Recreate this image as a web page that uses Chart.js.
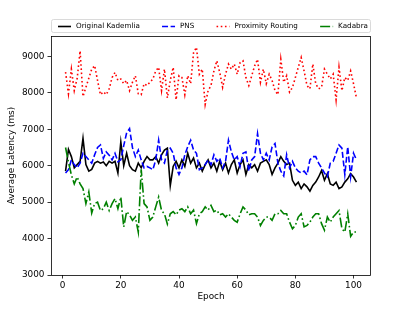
<!DOCTYPE html>
<html>
<head>
<meta charset="utf-8">
<script src="https://cdn.jsdelivr.net/npm/chart.js@4.4.1/dist/chart.umd.min.js"></script>
<style>
  html, body { margin: 0; padding: 0; background: #fff; }
  canvas { display: block; }
</style>
</head>
<body>
<canvas id="latency" width="412" height="309"></canvas>
<script>
// values, epochs 1..101
const kademlia = [
  5850, 6450, 6250, 5940, 6030, 6120, 6750, 6030, 5850, 5900,
  6070, 6120, 6070, 6100, 6000, 6120, 6070, 6120, 5800, 6650,
  6000, 6340, 6000, 5890, 5850, 6070, 5940, 6120, 6250, 6160,
  6160, 6250, 6070, 6300, 6430, 6480, 5450, 5980, 6120, 5940,
  6160, 5980, 6340, 6070, 6210, 5940, 6070, 5850, 6030, 6160,
  5940, 6070, 5850, 6120, 5890, 6070, 5800, 6030, 6160, 5800,
  6030, 6160, 5760, 6030, 5940, 6030, 5850, 6070, 6120, 6160,
  6030, 5760, 5940, 6070, 6250, 6120, 6030, 6070, 5600, 5460,
  5550, 5370, 5500, 5420, 5300, 5460, 5550, 5690, 5870, 5600,
  5780, 5500, 5460, 5550, 5370, 5420, 5550, 5640, 5780, 5690, 5550
];
const pns = [
  5800, 5890, 6160, 6030, 5940, 6070, 6340, 6250, 6160, 6070,
  6300, 6500, 6570, 6200, 6380, 6290, 6160, 6340, 6110, 6160,
  6550, 6900, 7020, 6500, 6250, 6430, 6160, 5940, 5980, 5940,
  5890, 6160, 6700, 6160, 6070, 6430, 6480, 6340, 5940, 5760,
  5940, 6300, 6520, 6700, 6430, 6340, 5890, 5940, 6030, 6160,
  6030, 6300, 6120, 6210, 5940, 6120, 6700, 6380, 6160, 6250,
  5980, 6340, 6380, 5850, 6160, 6250, 6880, 6340, 6160, 6340,
  6160, 6520, 6610, 6070, 5850, 5720, 6300, 5940, 6120, 5940,
  5850, 5800, 5850, 5750, 6160, 6250, 6250, 6070, 5940, 5800,
  5700, 6070, 6120, 6340, 6570, 6480, 5760, 6520, 5700, 6340, 6160
];
const proximity = [
  8570, 7975, 8650, 8060, 8400, 9150, 7900, 8150, 8400, 8650,
  8750, 8340, 7950, 8030, 7950, 8110, 8420, 8560, 8340, 8380,
  8250, 8340, 8060, 8290, 8470, 7975, 7950, 8250, 8200, 8290,
  8380, 8600, 8700, 8060, 8650, 7860, 8340, 8700, 7810, 8470,
  8420, 7950, 8470, 8250, 9100, 9250, 8510, 8650, 7680, 8060,
  8200, 8600, 8880, 8560, 8150, 8510, 8790, 8650, 8790, 8510,
  8830, 8880, 8420, 8200, 8470, 8740, 8920, 8290, 8650, 8250,
  8510, 8340, 8060, 7950, 8920, 8290, 8470, 8020, 8150, 8420,
  8700, 8970, 8600, 8200, 8110, 8790, 8250, 8110, 8150, 8650,
  8510, 8380, 8510, 7810, 8700, 8060, 8420, 8340, 8600, 8250, 7860
];
const kadabra = [
  6500, 6100, 5750, 5500, 5690, 5500, 5370, 4960, 5280, 4700,
  4960, 5000, 4770, 4820, 5000, 4770, 4960, 5100, 4820, 5140,
  4320, 4740, 4650, 4500, 4590, 4180, 5900, 4960, 4870, 4500,
  4590, 4870, 5140, 4770, 4680, 4400, 4680, 4740, 4650, 4780,
  4820, 4740, 4870, 4680, 4780, 4410, 4680, 4740, 4870, 4780,
  4910, 4740, 4780, 4650, 4680, 4590, 4680, 4590, 4500, 4450,
  4680, 4870, 4780, 4650, 4680, 4680, 4590, 4360, 4500, 4590,
  4590, 4500, 4680, 4680, 4770, 4680, 4680, 4450, 4270, 4360,
  4590, 4680, 4320, 4360, 4450, 4590, 4680, 4680, 4410, 4230,
  4590, 4450, 4590, 4680, 4770, 4270, 4180, 4680, 4060, 4180, 4180
];
const seriesNames = ['Original Kademlia', 'PNS', 'Proximity Routing', 'Kadabra'];
const epochs = kademlia.map((_, i) => i + 1);
const xTicks = [0, 20, 40, 60, 80, 100];
const yTicks = [3000, 4000, 5000, 6000, 7000, 8000, 9000];

const FONT = 'DejaVu Sans';
const LW = 1.6;

function points(vals) {
  return vals.map((v, i) => ({ x: epochs[i], y: v }));
}

function makeSet(label, vals, color, dash, order) {
  return {
    label: label,
    data: points(vals),
    borderColor: color,
    backgroundColor: color,
    borderWidth: LW,
    borderDash: dash,
    pointRadius: 0,
    fill: false,
    tension: 0,
    order: order
  };
}

// frame round the axes + a matplotlib style legend (mode "expand") above it
const frameAndLegend = {
  id: 'frameAndLegend',
  afterDraw(chart) {
    const ctx = chart.ctx;
    const a = chart.chartArea;
    ctx.save();
    ctx.strokeStyle = '#000';
    ctx.lineWidth = 0.8;
    ctx.strokeRect(Math.round(a.left) + 0.5, Math.round(a.top) + 0.5,
      Math.round(a.right - a.left) - 1, Math.round(a.bottom - a.top));

    const top = 19.5, h = 13, left = a.left, right = a.right;
    ctx.beginPath();
    ctx.roundRect(left + 0.5, top, right - left - 1, h, 2);
    ctx.fillStyle = 'rgba(255,255,255,0.8)';
    ctx.fill();
    ctx.strokeStyle = '#d0d0d0';
    ctx.lineWidth = 0.8;
    ctx.stroke();

    ctx.font = '7.2px "' + FONT + '"';
    ctx.textBaseline = 'middle';
    ctx.fillStyle = '#000';
    const handle = 13, gapText = 5, padL = 7, padR = 3;
    const sets = chart.data.datasets;
    const widths = sets.map(d => handle + gapText + ctx.measureText(d.label).width);
    const total = widths.reduce((s, w) => s + w, 0);
    const gap = (right - left - padL - padR - total) / (sets.length - 1);
    const cy = top + h / 2 + 0.5;
    let x = left + padL;
    sets.forEach((d, i) => {
      ctx.save();
      ctx.strokeStyle = d.borderColor;
      ctx.lineWidth = LW;
      ctx.setLineDash(d.borderDash);
      ctx.beginPath();
      ctx.moveTo(x, cy);
      ctx.lineTo(x + handle, cy);
      ctx.stroke();
      ctx.restore();
      ctx.fillText(d.label, x + handle + gapText, cy);
      x += widths[i] + gap;
    });
    ctx.restore();
  }
};

const tickFont = { family: FONT, size: 8.9 };

new Chart(document.getElementById('latency'), {
  type: 'line',
  data: {
    datasets: [
      makeSet(seriesNames[0], kademlia, '#000000', [], 3),
      makeSet(seriesNames[1], pns, '#0000ff', [6, 2.6], 2),
      makeSet(seriesNames[2], proximity, '#ff0000', [1.6, 2.6], 1),
      makeSet(seriesNames[3], kadabra, '#008000', [10, 2.6, 1.6, 2.6], 0)
    ]
  },
  options: {
    responsive: false,
    animation: false,
    layout: { padding: { top: 36, right: 41, left: 0, bottom: 0 } },
    plugins: {
      legend: { display: false },
      tooltip: { enabled: false }
    },
    scales: {
      x: {
        type: 'linear',
        min: -4,
        max: 106,
        afterBuildTicks: s => { s.ticks = xTicks.map(v => ({ value: v })); },
        afterFit: s => { s.height = 34; },
        border: { display: false },
        grid: { display: true, drawOnChartArea: false, drawTicks: true, tickLength: 3.5, color: '#000', lineWidth: 0.8 },
        ticks: { color: '#000', font: tickFont, padding: 2, maxRotation: 0, callback: v => String(v) },
        title: { display: true, text: 'Epoch', color: '#000', font: tickFont, padding: { top: 0, bottom: 6.7 } }
      },
      y: {
        min: 3000,
        max: 9560,
        afterBuildTicks: s => { s.ticks = yTicks.map(v => ({ value: v })); },
        afterFit: s => { s.width = 51; },
        border: { display: false },
        grid: { display: true, drawOnChartArea: false, drawTicks: true, tickLength: 3.5, color: '#000', lineWidth: 0.8 },
        ticks: { color: '#000', font: tickFont, padding: 3, callback: v => String(v) },
        title: { display: true, text: 'Average Latency (ms)', color: '#000', font: tickFont, padding: { top: 6.7, bottom: 0 } }
      }
    }
  },
  plugins: [frameAndLegend]
});
</script>
</body>
</html>
